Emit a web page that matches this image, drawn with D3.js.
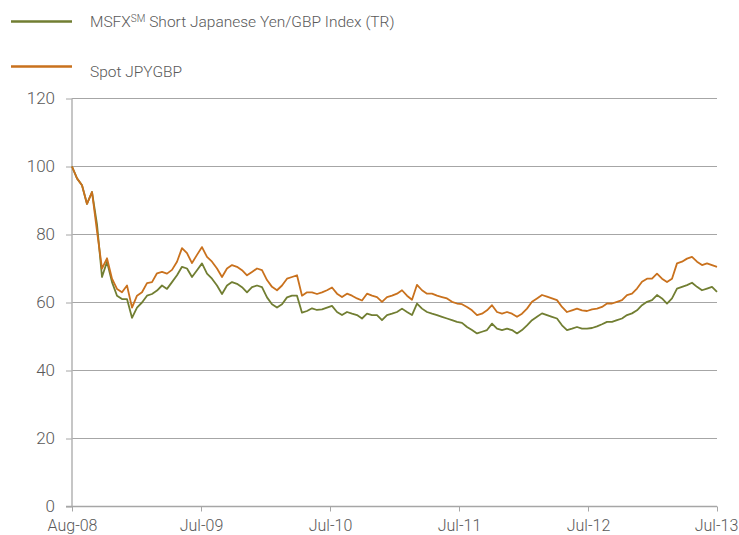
<!DOCTYPE html>
<html>
<head>
<meta charset="utf-8">
<title>MSFX Short Japanese Yen/GBP Index</title>
<script src="https://d3js.org/d3.v7.min.js"></script>
<style>
  body { margin: 0; background: #fff; }
  text { font-family: Roboto, "Open Sans", "Liberation Sans", sans-serif; font-weight: 300; fill: #595959; }
</style>
</head>
<body>
<svg width="739" height="535"></svg>
<script>
// tick labels on the category axis
const xLabels = ["Aug-08", "Jul-09", "Jul-10", "Jul-11", "Jul-12", "Jul-13"];
const yTicks = [0, 20, 40, 60, 80, 100, 120];

// Spot JPYGBP (rebased to 100)
const spot = [
  100, 96.5, 94.5, 89, 92.5, 81, 70, 73, 67, 64,
  63, 65, 58.5, 62, 63, 65.7, 66, 68.6, 69, 68.5,
  69.6, 72, 76, 74.5, 71.6, 74, 76.3, 73.4, 72, 70,
  67.5, 70, 71, 70.5, 69.5, 68, 69, 70, 69.5, 66.6,
  64.6, 63.6, 65, 67, 67.5, 68, 62, 63, 63, 62.5,
  63, 63.6, 64.4, 62.6, 61.6, 62.6, 62, 61.2, 60.6, 62.6,
  62, 61.6, 60.2, 61.6, 62, 62.6, 63.6, 62, 60.8, 65.2,
  63.6, 62.6, 62.6, 62, 61.6, 61.2, 60.2, 59.7, 59.5, 58.7,
  57.7, 56.3, 56.7, 57.7, 59.2, 57.2, 56.7, 57.2, 56.7, 55.8,
  56.7, 58.2, 60.2, 61.2, 62.2, 61.7, 61.2, 60.7, 58.7, 57.2,
  57.7, 58.2, 57.7, 57.5, 58, 58.2, 58.7, 59.7, 59.7, 60.2,
  60.7, 62.2, 62.6, 64.1, 66.1, 67, 67, 68.5, 67, 66,
  67, 71.5, 72, 72.9, 73.4, 72, 71, 71.5, 71, 70.5
];

// MSFX Short Japanese Yen/GBP Index (TR)
const msfx = [
  100, 96.5, 94.5, 89, 92.5, 83, 67.5, 72, 66, 62,
  61, 61, 55.5, 58.5, 60, 62, 62.5, 63.5, 65, 64,
  66, 68, 70.5, 70, 67.5, 69.5, 71.5, 68.5, 67, 65,
  62.5, 65, 66, 65.5, 64.5, 63, 64.5, 65, 64.5, 61.5,
  59.5, 58.5, 59.5, 61.5, 62, 62, 57, 57.5, 58.3, 57.8,
  58, 58.5, 59, 57.2, 56.3, 57.2, 56.7, 56.3, 55.3, 56.7,
  56.3, 56.3, 54.8, 56.3, 56.7, 57.2, 58.2, 57.2, 56.3, 59.7,
  58.2, 57.2, 56.7, 56.3, 55.8, 55.3, 54.8, 54.3, 54, 52.8,
  51.9, 50.9, 51.4, 51.9, 53.8, 52.3, 51.9, 52.3, 51.9, 50.9,
  51.9, 53.3, 54.8, 55.8, 56.8, 56.3, 55.8, 55.3, 53.3, 51.9,
  52.3, 52.8, 52.3, 52.3, 52.5, 53, 53.6, 54.3, 54.3, 54.8,
  55.3, 56.3, 56.8, 57.7, 59.2, 60.2, 60.7, 62.2, 61.2, 59.7,
  61.2, 64.1, 64.6, 65.1, 65.8, 64.6, 63.6, 64.1, 64.6, 63.1
];

const seriesNames = ["MSFX", "Short Japanese Yen/GBP Index (TR)", "Spot JPYGBP"];
const green = "#717e32", orange = "#c9711d";

const svg = d3.select("svg");
const plotLeft = 72, plotRight = 717, plotTop = 98.5, plotBottom = 506.5;

const n = spot.length - 1;
const x = d3.scaleLinear().domain([0, n]).range([plotLeft, plotRight]);
const y = d3.scaleLinear().domain([0, 120]).range([plotBottom, plotTop]);

// horizontal gridlines + y labels
const yAxis = svg.append("g")
    .attr("transform", "translate(" + plotLeft + ",0)")
    .call(d3.axisLeft(y).tickValues(yTicks).tickSize(6).tickPadding(11)
        .tickFormat(d3.format("d")));
yAxis.select(".domain").remove();
yAxis.selectAll(".tick line").attr("stroke", "#a6a6a6");
yAxis.selectAll(".tick text").style("font-size", "17px");

svg.append("g").selectAll("line.grid").data(yTicks.filter(d => d > 0)).enter()
  .append("line")
    .attr("x1", plotLeft).attr("x2", plotRight)
    .attr("y1", d => y(d)).attr("y2", d => y(d))
    .attr("stroke", "#a6a6a6").attr("stroke-width", 1);

// vertical axis line
svg.append("line")
    .attr("x1", plotLeft).attr("x2", plotLeft)
    .attr("y1", y(120)).attr("y2", y(0))
    .attr("stroke", "#b3b3b3").attr("stroke-width", 1.5);

// bottom axis
const xAxis = svg.append("g")
    .attr("transform", "translate(0," + plotBottom + ")")
    .call(d3.axisBottom(x)
        .tickValues(d3.range(xLabels.length).map(k => k * n / (xLabels.length - 1)))
        .tickSize(5).tickSizeOuter(0).tickPadding(8)
        .tickFormat((d, i) => xLabels[i]));
xAxis.select(".domain").attr("stroke", "#a6a6a6").attr("stroke-width", 1.5)
    .attr("d", "M" + (plotLeft - 6) + ",0H" + plotRight);
xAxis.selectAll(".tick line").attr("stroke", "#a6a6a6");
xAxis.selectAll(".tick text").style("font-size", "16px")
    .attr("dx", (d, i) => i === xLabels.length - 1 ? -1 : 0);

// lines
const line = d3.line().x((d, i) => x(i)).y(d => y(d));

svg.append("path").datum(msfx)
    .attr("d", line).attr("fill", "none")
    .attr("stroke", green).attr("stroke-width", 1.8).attr("stroke-linejoin", "round");

svg.append("path").datum(spot)
    .attr("d", line).attr("fill", "none")
    .attr("stroke", orange).attr("stroke-width", 1.8).attr("stroke-linejoin", "round");

// legend
const legend = svg.append("g");
legend.append("line").attr("x1", 11).attr("x2", 72).attr("y1", 21.5).attr("y2", 21.5)
    .attr("stroke", green).attr("stroke-width", 2.5);
const t1 = legend.append("text").attr("x", 90).attr("y", 27).style("font-size", "15.5px");
t1.append("tspan").text(seriesNames[0]);
t1.append("tspan").attr("dy", -5).style("font-size", "10px").text("SM");
t1.append("tspan").attr("dy", 5).text(" " + seriesNames[1]);

legend.append("line").attr("x1", 11).attr("x2", 72).attr("y1", 66.5).attr("y2", 66.5)
    .attr("stroke", orange).attr("stroke-width", 2.5);
legend.append("text").attr("x", 90).attr("y", 77).style("font-size", "15.5px")
    .text(seriesNames[2]);
</script>
</body>
</html>
